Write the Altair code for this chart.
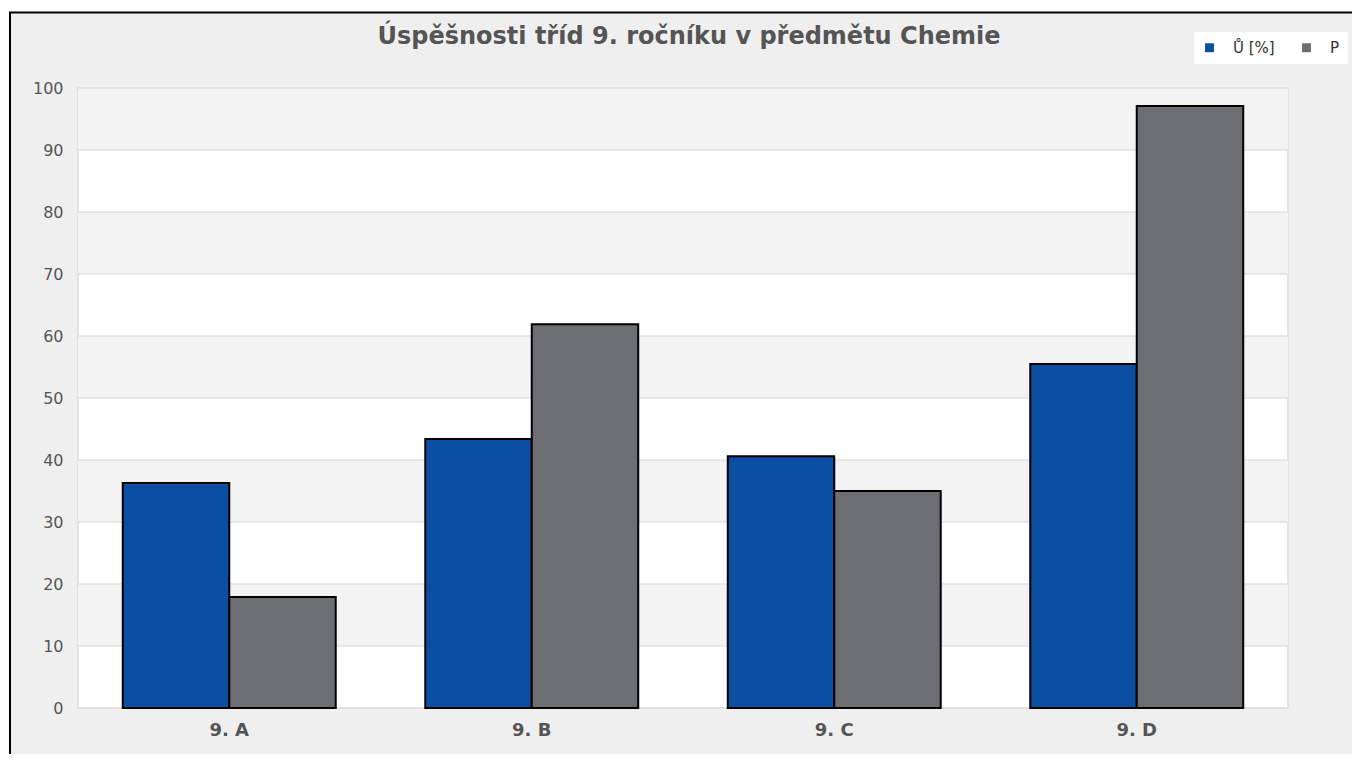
import altair as alt
import pandas as pd

classes = ["9. A", "9. B", "9. C", "9. D"]
series = ["Ů [%]", "P"]
u_values = [36.3, 43.4, 40.6, 55.5]
p_values = [17.9, 61.9, 35.0, 97.1]
band_starts = [10, 30, 50, 70, 90]
band_ends = [20, 40, 60, 80, 100]
y_ticks = [0, 10, 20, 30, 40, 50, 60, 70, 80, 90, 100]

rows = []
for c, u, p in zip(classes, u_values, p_values):
    rows.append({"trida": c, "serie": series[0], "hodnota": u})
    rows.append({"trida": c, "serie": series[1], "hodnota": p})
df = pd.DataFrame(rows)
bands = pd.DataFrame({"y": band_starts, "y2": band_ends})
grid = pd.DataFrame({"y": y_ticks})

W, H = 1210, 620
FONT = "DejaVu Sans"

yscale = alt.Scale(domain=[0, 100], nice=False)
yaxis = alt.Axis(
    title=None, values=y_ticks, ticks=False, domain=False, grid=False,
    labelFont=FONT, labelFontSize=16, labelColor="#555555",
    labelPadding=15, zindex=2,
)

frame = alt.Chart(pd.DataFrame({"a": [0]})).mark_rect(
    fill="#efefef", stroke="#000000", strokeWidth=2
).encode(
    x=alt.value(-68), x2=alt.value(1400), y=alt.value(-75.5), y2=alt.value(800)
)

plotbg = alt.Chart(pd.DataFrame({"a": [0]})).mark_rect(
    fill="#ffffff", stroke="#dcdcdc", strokeWidth=1.5
).encode(
    x=alt.value(0), x2=alt.value(W), y=alt.value(0), y2=alt.value(H)
)

band_layer = alt.Chart(bands).mark_rect(fill="#f3f3f3").encode(
    y=alt.Y("y:Q", scale=yscale, axis=yaxis),
    y2="y2:Q",
    x=alt.value(0),
    x2=alt.value(W),
)

grid_layer = alt.Chart(grid).mark_rule(color="#e2e2e2", strokeWidth=1.5).encode(
    y=alt.Y("y:Q", scale=yscale, axis=yaxis),
    x=alt.value(0),
    x2=alt.value(W),
)

bars = alt.Chart(df).mark_bar(stroke="#000000", strokeWidth=2).encode(
    x=alt.X(
        "trida:N",
        sort=classes,
        scale=alt.Scale(paddingInner=0.296, paddingOuter=0.148),
        axis=alt.Axis(
            title=None, labelAngle=0, ticks=False, domain=False, grid=False,
            labelFont=FONT, labelFontWeight="bold", labelFontSize=18,
            labelColor="#555555", labelPadding=13, zindex=2,
        ),
    ),
    xOffset=alt.XOffset("serie:N", sort=series),
    y=alt.Y("hodnota:Q", scale=yscale, axis=yaxis),
    color=alt.Color(
        "serie:N",
        sort=series,
        scale=alt.Scale(domain=series, range=["#0b4ea2", "#6d6e71"]),
        legend=alt.Legend(
            title=None, orient="none", direction="horizontal",
            legendX=1116, legendY=-56, fillColor="#ffffff", padding=8,
            symbolType="square", symbolSize=80, symbolStrokeWidth=0,
            labelFont=FONT, labelFontSize=15, labelColor="#333333",
            columnPadding=24, labelOffset=16, zindex=2,
        ),
    ),
)

chart = alt.layer(frame, plotbg, band_layer, grid_layer, bars).properties(
    width=W,
    height=H,
    title=alt.TitleParams(
        "Úspěšnosti tříd 9. ročníku v předmětu Chemie",
        font=FONT, fontSize=24, fontWeight="bold", color="#555555",
        anchor="middle", baseline="alphabetic", offset=-56.5, dx=6,
        frame="group", zindex=2,
    ),
    autosize=alt.AutoSizeParams(type="none"),
    padding={"left": 70, "top": 80, "right": 64, "bottom": 46},
    background="#ffffff",
).configure_view(stroke=None)

chart.save("out.html", embed_options={"renderer": "svg", "actions": False})
